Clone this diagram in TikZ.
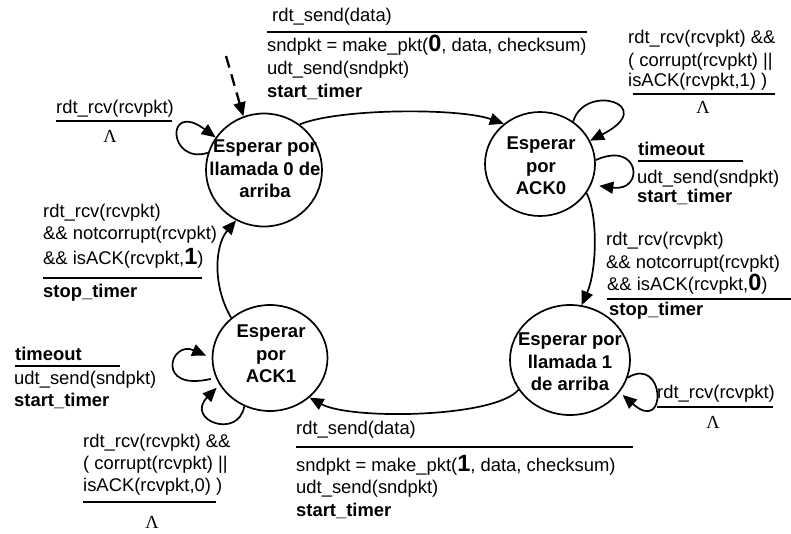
\documentclass[tikz,border=0pt]{standalone}
\usepackage{fontspec}
\setmainfont{Liberation Sans}
\newfontfamily\lamfont{Liberation Serif}
\usetikzlibrary{arrows.meta,shapes.geometric}
% larger bold sequence number inside make_pkt / isACK
\newcommand\seqnum[1]{{\fontsize{23.5}{22}\selectfont\bfseries #1}}
\begin{document}
\begin{tikzpicture}[x=1pt,y=-1pt,
  txt/.style={anchor=base west,inner sep=0pt,font=\fontsize{18.4}{22}\selectfont},
  btxt/.style={anchor=base west,inner sep=0pt,font=\fontsize{18.4}{22}\selectfont\bfseries},
  lam/.style={anchor=base,inner sep=0pt,font=\fontsize{18.4}{22}\selectfont\lamfont},
  rule/.style={line width=2.6pt},
  state/.style={ellipse,draw,line width=1.7pt,inner sep=0pt},
  stxt/.style={align=center,inner sep=0pt,font=\fontsize{18.5}{22.5}\selectfont\bfseries},
  tip/.style={-{Triangle[length=14pt,width=12pt]}},
  arr/.style={line width=1.7pt,tip}]
\useasboundingbox (0,0) rectangle (791,533);

% states
\node[state,minimum width=116pt,minimum height=113pt] (s0) at (264,170) {};
\node[state,minimum width=110pt,minimum height=104pt] (ack0) at (540,164) {};
\node[state,minimum width=115pt,minimum height=106pt] (ack1) at (270,358) {};
\node[state,minimum width=120pt,minimum height=110pt] (s1) at (570,360) {};
\node[stxt] (s0t) at (265,169) {Esperar por\\llamada 0 de\\arriba};
\node[stxt] (ack0t) at (541,166) {Esperar\\por\\ACK0};
\node[stxt] (ack1t) at (271,354) {Esperar\\por\\ACK1};
\node[stxt] (s1t) at (570,362) {Esperar por\\llamada 1\\de arriba};

% initial transition
\coordinate (init) at (226,56);
\draw[line width=2.3pt,dash pattern=on 12pt off 7pt,tip] (init) -- (s0.111);

% transitions between states
\draw[arr] (s0.52) .. controls (340,108) and (460,108) .. (ack0.132);
\draw[arr] (ack0.-32) .. controls (598,215) and (597,270) .. (s1.78);
\draw[arr] (s1.210) .. controls (495,418) and (350,420) .. (ack1.-45);
\draw[arr] (ack1.134) .. controls (212,285) and (215,245) .. (s0.241);

% self loops
\draw[arr] (s0.163) .. controls (168,165) and (165,100) .. (s0.146);
\draw[arr] (ack0.52) .. controls (585,82) and (660,105) .. (ack0.25);
\draw[arr,shorten >=8pt] (ack0.4) .. controls (640,140) and (645,192) .. (ack0.-22);
\draw[arr,shorten >=4pt] (s1.-17) .. controls (665,355) and (668,435) .. (s1.-33);
\draw[arr,shorten <=5pt,shorten >=6pt] (ack1.200) .. controls (155,392) and (170,340) .. (ack1.180);
\draw[arr,shorten >=4pt] (ack1.242) .. controls (238,440) and (185,420) .. (ack1.208);

% s0 -> ack0
\node[txt] (a1) at (272,21) {rdt\_send(data)};
\draw[rule] (267,32) -- (587,32);
\node[txt] (a2) at (267,51) {sndpkt = make\_pkt(\seqnum{0}, data, checksum)};
\node[txt] (a3) at (267,74) {udt\_send(sndpkt)};
\node[btxt] (a4) at (267,97) {start\_timer};

% s1 -> ack1
\node[txt] (b1) at (296,434) {rdt\_send(data)};
\draw[rule] (296,447) -- (633,447);
\node[txt] (b2) at (296,471) {sndpkt = make\_pkt(\seqnum{1}, data, checksum)};
\node[txt] (b3) at (296,493) {udt\_send(sndpkt)};
\node[btxt] (b4) at (296,516) {start\_timer};

% s0 self loop
\node[txt] (c1) at (56,113) {rdt\_rcv(rcvpkt)};
\draw[rule] (56,121) -- (172,121);
\node[lam] (c2) at (110,142) {Λ};

% ack1 -> s0
\node[txt] (d1) at (43,217) {rdt\_rcv(rcvpkt)};
\node[txt] (d2) at (43,239) {\&\& notcorrupt(rcvpkt)};
\node[txt] (d3) at (43,264) {\&\& isACK(rcvpkt,\seqnum{1})};
\draw[rule] (43,278) -- (202,278);
\node[btxt] (d4) at (43,297) {stop\_timer};

% ack0 upper self loop
\node[txt] (e1) at (628,43) {rdt\_rcv(rcvpkt) \&\&};
\node[txt] (e2) at (628,66) {( corrupt(rcvpkt) ||};
\node[txt] (e3) at (628,86) {isACK(rcvpkt,1) )};
\draw[rule] (633,94) -- (775,94);
\node[lam] (e4) at (703,113) {Λ};

% ack0 timeout
\node[btxt] (f1) at (638,155) {timeout};
\draw[rule] (638,161) -- (743,161);
\node[txt] (f2) at (637,183) {udt\_send(sndpkt)};
\node[btxt] (f3) at (637,202) {start\_timer};

% ack0 -> s1
\node[txt] (g1) at (606,245) {rdt\_rcv(rcvpkt)};
\node[txt] (g2) at (606,268) {\&\& notcorrupt(rcvpkt)};
\node[txt] (g3) at (607,290) {\&\& isACK(rcvpkt,\seqnum{0})};
\draw[rule] (607,299) -- (791,299);
\node[btxt] (g4) at (609,315) {stop\_timer};

% s1 self loop
\node[txt] (h1) at (657,398) {rdt\_rcv(rcvpkt)};
\draw[rule] (657,407) -- (773,407);
\node[lam] (h2) at (713,428) {Λ};

% ack1 timeout
\node[btxt] (i1) at (15,360) {timeout};
\draw[rule] (15,366) -- (120,366);
\node[txt] (i2) at (14,384) {udt\_send(sndpkt)};
\node[btxt] (i3) at (14,406) {start\_timer};

% ack1 lower self loop
\node[txt] (j1) at (83,447) {rdt\_rcv(rcvpkt) \&\&};
\node[txt] (j2) at (83,469) {( corrupt(rcvpkt) ||};
\node[txt] (j3) at (83,491) {isACK(rcvpkt,0) )};
\draw[rule] (83,502) -- (216,502);
\node[lam] (j4) at (152,528) {Λ};
\end{tikzpicture}
\end{document}
